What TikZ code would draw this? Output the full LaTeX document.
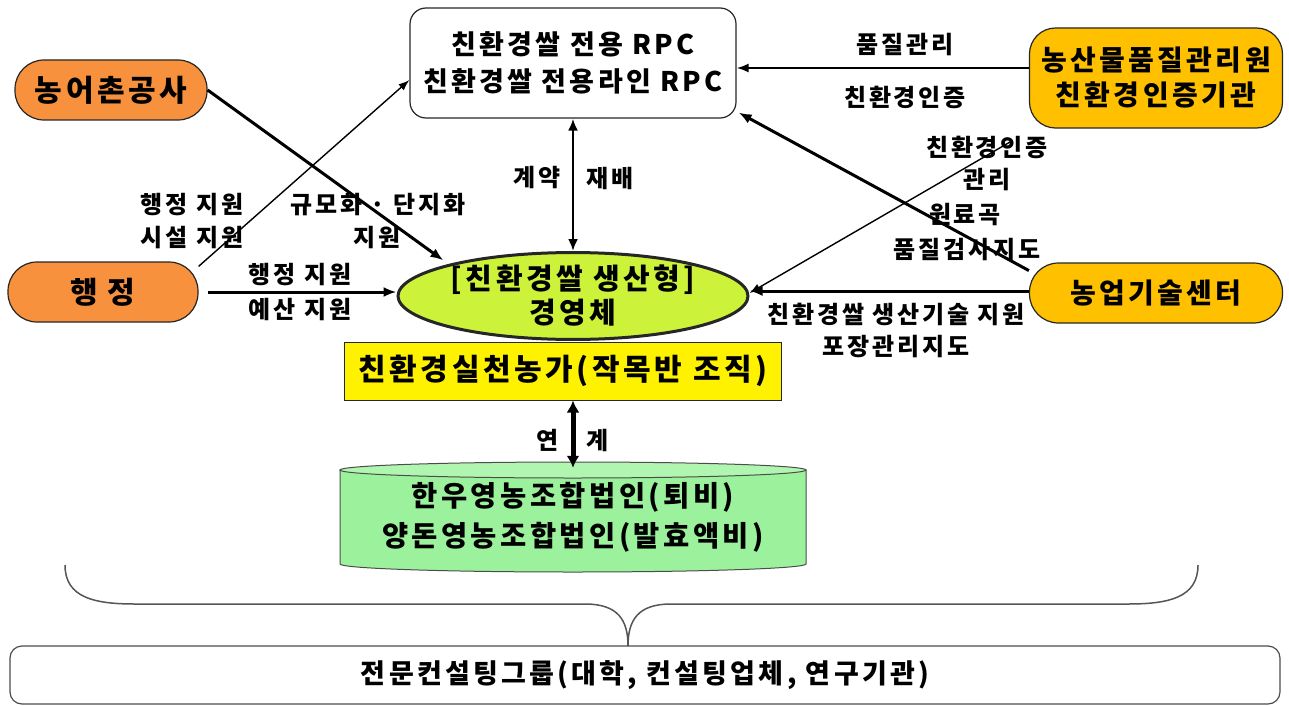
\documentclass[tikz,border=0pt]{standalone}
\usepackage{fontspec}
\setmainfont{Noto Sans CJK KR}[LetterSpace=12]
\usetikzlibrary{shapes.geometric,arrows.meta,backgrounds}
\definecolor{orgorange}{HTML}{F7913D}
\definecolor{certamber}{HTML}{FFC000}
\definecolor{farmgreen}{HTML}{CCF23A}
\definecolor{coopgreen}{HTML}{9CF29C}
\definecolor{bracegray}{HTML}{555555}

\tikzset{
  box/.style={draw=black!85, line width=1.2pt, align=center, inner sep=0pt},
  rpcbox/.style={box, fill=white, rounded corners=16pt, minimum width=326pt, minimum height=110pt,
    font=\bfseries\fontsize{27}{37}\selectfont},
  orgbox/.style={box, fill=orgorange, rounded corners=29pt, minimum height=60pt,
    font=\bfseries\fontsize{30}{34}\selectfont},
  certbox/.style={box, fill=certamber, rounded corners=26pt, minimum width=253pt,
    font=\bfseries\fontsize{28}{35}\selectfont},
  farmshape/.style={box, ellipse, fill=farmgreen, line width=3pt, minimum width=350pt, minimum height=84pt,
    font=\bfseries\fontsize{29}{34}\selectfont},
  groupbox/.style={box, fill=yellow, line width=1pt, minimum width=437pt, minimum height=58pt,
    font=\bfseries\fontsize{30}{34}\selectfont},
  coopshape/.style={align=center, inner sep=0pt, minimum width=466pt, minimum height=110pt,
    font=\bfseries\fontsize{28.5}{40}\selectfont},
  consbox/.style={box, draw=black!70, rounded corners=12pt, minimum width=1270pt, minimum height=58pt,
    font=\bfseries\fontsize{27}{34}\selectfont},
  lbl/.style={inner sep=0pt, font=\bfseries\fontsize{24}{28}\selectfont},
  bigarrow/.style={line width=3pt, -{Latex[length=13pt,width=10pt]}},
  midarrow/.style={line width=2pt, -{Latex[length=12pt,width=9pt]}},
  smallarrow/.style={line width=1.4pt, -{Latex[length=11pt,width=8pt]}},
  twoway/.style={line width=2.6pt, {Latex[length=12pt,width=10pt]}-{Latex[length=12pt,width=10pt]}},
  fatway/.style={line width=5pt, {Latex[length=12pt,width=13pt]}-{Latex[length=12pt,width=13pt]}}
}

\begin{document}
\begin{tikzpicture}[x=1pt,y=-1pt]
  \useasboundingbox (0,0) rectangle (1289,706);

  % boxes
  \node[rpcbox] (rpc) at (573,63) {친환경쌀 전용 RPC\\친환경쌀 전용라인 RPC};
  \node[orgbox, minimum width=192pt] (kr) at (111,90) {농어촌공사};
  \node[orgbox, minimum width=190pt] (gov) at (103,292) {행\hspace{10pt}정};
  \node[certbox, minimum height=100pt] (naqs) at (1156,78) {농산물품질관리원\\친환경인증기관};
  \node[certbox, minimum height=60pt, rounded corners=29pt] (atc) at (1156,293) {농업기술센터};
  \node[farmshape] (farm) at (573,296) {[친환경쌀 생산형]\\경영체};
  \node[groupbox] (group) at (563,371) {친환경실천농가(작목반 조직)};
  \node[coopshape] (coop) at (573,517) {한우영농조합법인(퇴비)\\양돈영농조합법인(발효액비)};
  \node[consbox] (cons) at (645,675) {전문컨설팅그룹(대학, 컨설팅업체, 연구기관)};

  % cylinder behind the coop text
  \begin{scope}[on background layer]
    \filldraw[fill=coopgreen, draw=black!70, line width=1pt]
      (340,470) -- (340,564) arc[start angle=180, end angle=360, x radius=233pt, y radius=8pt]
      -- (806,470) -- cycle;
    \filldraw[fill=coopgreen!80!white, draw=black!70, line width=1pt]
      (573,470) ellipse[x radius=233pt, y radius=8pt];
  \end{scope}

  % brace
  \draw[bracegray, line width=1.5pt] (65,565) .. controls (65,598) and (95,604) .. (135,604)
    -- (585,604) .. controls (618,604) and (628,620) .. (628,646)
    .. controls (628,620) and (638,604) .. (671,604) -- (1128,604)
    .. controls (1168,604) and (1198,598) .. (1198,565);

  % connectors
  \coordinate (q) at ([yshift=10pt]naqs.west);
  \draw[midarrow] (q) -- (q -| rpc.east);
  \draw[bigarrow] (atc.170) -- ([xshift=2pt,yshift=6pt]rpc.south east);
  \coordinate (cert) at (1010,142);
  \draw[smallarrow] (cert) -- ([yshift=3pt]farm.east);
  \coordinate (t) at ([yshift=2pt]atc.west);
  \draw[bigarrow] (t) -- (t -| farm.east);
  \draw[twoway] (rpc.south) -- (farm.north);
  \draw[bigarrow] (kr.east) -- ([xshift=-8pt,yshift=3pt]farm.165);
  \draw[smallarrow] (gov.15) -- ([yshift=-17pt]rpc.west);
  \draw[bigarrow, shorten <=9pt] (gov.east) -- (gov.east -| farm.west);
  \draw[fatway] (coop.north |- group.south) -- ([yshift=-6pt]coop.north);

  % labels
  \node[lbl] (l1) at (905,45) {품질관리};
  \node[lbl] (l2) at (905,97) {친환경인증};
  \node[lbl] (l3) at (987,147) {친환경인증};
  \node[lbl] (l4) at (987,180) {관리};
  \node[lbl] (l5) at (965,215) {원료곡};
  \node[lbl] (l6) at (967,250) {품질검사지도};
  \node[lbl] (l7) at (896,314) {친환경쌀 생산기술 지원};
  \node[lbl] (l8) at (896,347) {포장관리지도};
  \node[lbl] (l9) at (537,178) {계약};
  \node[lbl] (l10) at (610,178) {재배};
  \node[lbl] (l11) at (192,205) {행정 지원};
  \node[lbl] (l12) at (192,238) {시설 지원};
  \node[lbl] (l13) at (378,205) {규모화 · 단지화};
  \node[lbl] (l14) at (377,238) {지원};
  \node[lbl] (l15) at (300,275) {행정 지원};
  \node[lbl] (l16) at (300,310) {예산 지원};
  \node[lbl] (l17) at (548,440) {연};
  \node[lbl] (l18) at (598,440) {계};
\end{tikzpicture}
\end{document}
